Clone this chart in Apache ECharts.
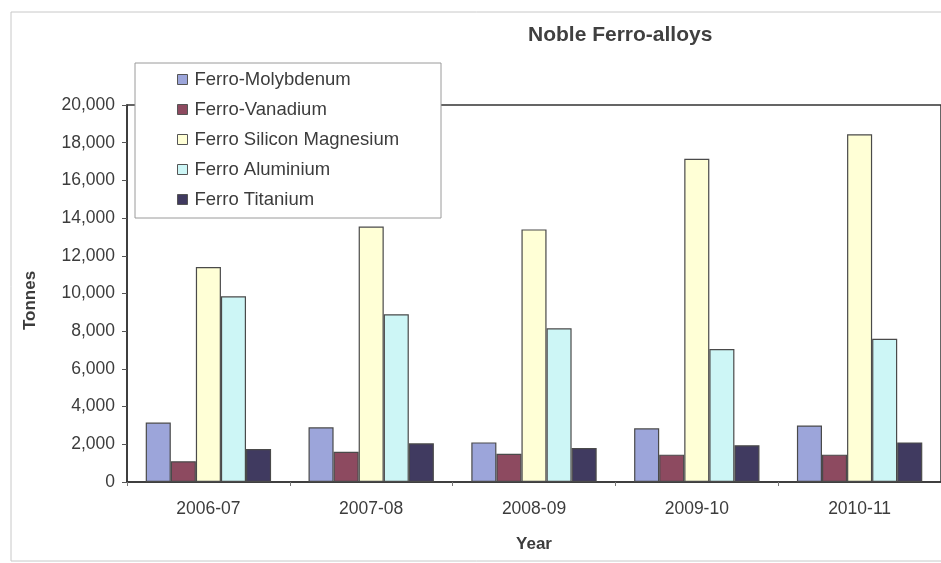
<!DOCTYPE html>
<html>
<head>
<meta charset="utf-8">
<script src="https://cdn.jsdelivr.net/npm/echarts@6/dist/echarts.min.js"></script>
<style>
  html, body { margin: 0; padding: 0; background: #ffffff; }
  #chart { width: 941px; height: 563px; }
</style>
</head>
<body>
<div id="chart"></div>
<script>
// Production of noble ferro-alloys, tonnes per year
const years = ['2006-07', '2007-08', '2008-09', '2009-10', '2010-11'];
const seriesNames = ['Ferro-Molybdenum', 'Ferro-Vanadium', 'Ferro Silicon Magnesium', 'Ferro Aluminium', 'Ferro Titanium'];
const ferroMolybdenum = [3150, 2900, 2100, 2850, 3000];
const ferroVanadium = [1100, 1600, 1500, 1450, 1450];
const ferroSiliconMagnesium = [11400, 13550, 13400, 17150, 18450];
const ferroAluminium = [9850, 8900, 8150, 7050, 7600];
const ferroTitanium = [1750, 2050, 1800, 1950, 2100];
const yTicks = [0, 2000, 4000, 6000, 8000, 10000, 12000, 14000, 16000, 18000, 20000];

const seriesValues = [ferroMolybdenum, ferroVanadium, ferroSiliconMagnesium, ferroAluminium, ferroTitanium];
const seriesColors = ['#9ca5da', '#8d4a60', '#ffffd6', '#cdf6f6', '#403a60'];

const textColor = '#3c3c3c';
const fontFamily = 'Liberation Sans, Arial, sans-serif';

const chart = echarts.init(document.getElementById('chart'), null, { renderer: 'canvas' });

const option = {
  backgroundColor: '#ffffff',
  animation: false,
  title: {
    text: 'Noble Ferro-alloys',
    left: 523,
    top: 20,
    textStyle: { fontFamily, fontSize: 21, fontWeight: 'bold', color: '#404040' }
  },
  graphic: [
    {
      type: 'rect',
      z: 0,
      shape: { x: 11, y: 12, width: 940, height: 549 },
      style: { fill: 'none', stroke: '#c8c8c8', lineWidth: 1 }
    },
    {
      type: 'rect',
      z: 100,
      shape: { x: 135, y: 63, width: 306, height: 155 },
      style: { fill: '#ffffff', stroke: '#9a9a9a', lineWidth: 1 }
    }
  ],
  legend: {
    z: 101,
    orient: 'vertical',
    left: 177,
    top: 70,
    itemWidth: 10,
    itemHeight: 10,
    itemGap: 11,
    icon: 'rect',
    padding: 0,
    data: seriesNames,
    itemStyle: { borderColor: '#555', borderWidth: 1 },
    textStyle: { fontFamily, fontSize: 18.5, color: textColor, lineHeight: 18, padding: [0, 0, 0, 2] }
  },
  grid: {
    left: 127,
    top: 105,
    width: 817,
    height: 377,
    show: true,
    borderColor: '#333333',
    borderWidth: 1.5,
    containLabel: false
  },
  xAxis: {
    type: 'category',
    data: years,
    name: 'Year',
    nameLocation: 'middle',
    nameGap: 54,
    nameTextStyle: { fontFamily, fontSize: 17, fontWeight: 'bold', color: textColor },
    axisLine: { lineStyle: { color: '#333', width: 1.5 } },
    axisTick: { show: true, alignWithLabel: false, length: 4, inside: false, lineStyle: { color: '#777' } },
    axisLabel: { fontFamily, fontSize: 17.5, color: textColor, margin: 18 }
  },
  yAxis: {
    type: 'value',
    min: yTicks[0],
    max: yTicks[yTicks.length - 1],
    interval: yTicks[1] - yTicks[0],
    name: 'Tonnes',
    nameLocation: 'middle',
    nameGap: 88,
    nameRotate: 90,
    nameTextStyle: { fontFamily, fontSize: 17, fontWeight: 'bold', color: textColor, padding: [0, 0, 0, -14] },
    axisLine: { show: true, lineStyle: { color: '#333', width: 1.5 } },
    axisTick: { show: true, length: 5, lineStyle: { color: '#555' } },
    splitLine: { show: false },
    axisLabel: {
      fontFamily, fontSize: 17.5, color: textColor, margin: 12,
      formatter: v => v.toLocaleString('en-US')
    }
  },
  series: seriesNames.map((name, i) => ({
    name,
    type: 'bar',
    data: seriesValues[i],
    barGap: '0%',
    barCategoryGap: '23%',
    itemStyle: { color: seriesColors[i], borderColor: '#4a4a4a', borderWidth: 1.2 }
  }))
};

chart.setOption(option);
</script>
</body>
</html>
